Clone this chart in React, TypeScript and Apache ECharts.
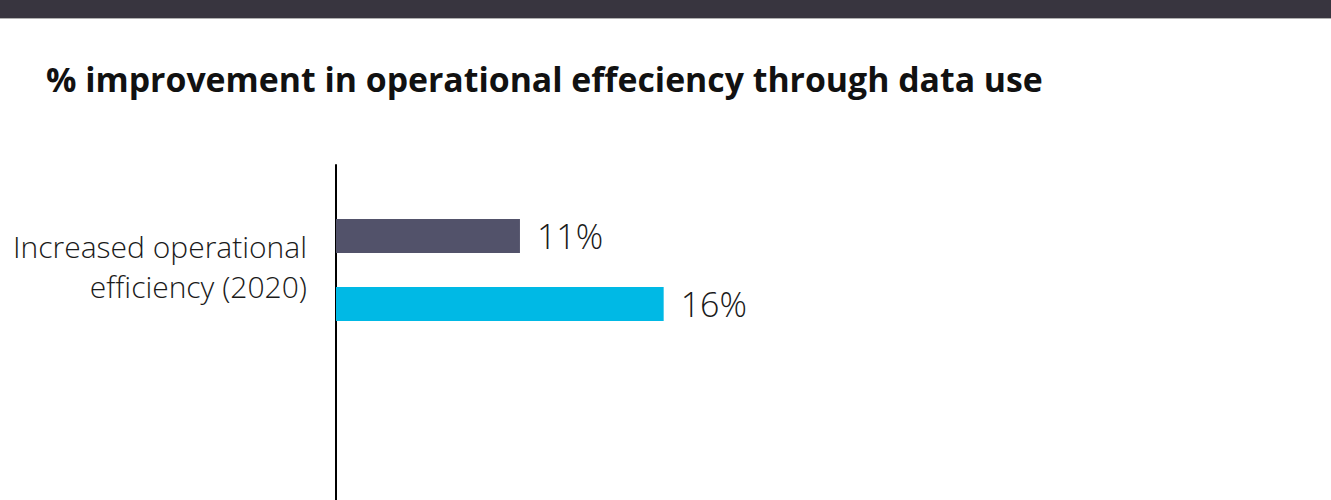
import React, { useEffect, useRef } from "react";
import * as echarts from "echarts";

const categories = ["Increased operational\nefficiency (2020)"];
const seriesA = [11];
const seriesB = [16];
const seriesNames = ["Series A", "Series B"];
const colors = ["#52526a", "#00b9e5"];
const titleText = "% improvement in operational effeciency through data use";

export default function App() {
  const ref = useRef<HTMLDivElement>(null);
  useEffect(() => {
    if (!ref.current) return;
    const chart = echarts.init(ref.current, undefined, { renderer: "svg" });
    const label = {
      show: true,
      position: "right" as const,
      distance: 17,
      formatter: (p: any) => `${p.value}%`,
      fontFamily: "Open Sans",
      fontWeight: 300,
      fontSize: 34,
      color: "#1a1a1a",
    };
    const catText = {
      fontFamily: "Open Sans",
      fontWeight: 300,
      fontSize: 30,
      lineHeight: 40,
      color: "#1a1a1a",
      align: "right",
    };
    chart.setOption({
      animation: false,
      backgroundColor: "#ffffff",
      title: {
        text: titleText,
        left: 41,
        top: 57,
        textStyle: {
          fontFamily: "Open Sans",
          fontWeight: "bold",
          fontSize: 33.8,
          color: "#111",
        },
      },
      graphic: [
        {
          type: "rect",
          shape: { x: 0, y: 0, width: 1331, height: 18 },
          style: { fill: "#38353f" },
        },
        {
          type: "line",
          shape: { x1: 0, y1: 18.5, x2: 1331, y2: 18.5 },
          style: { stroke: "#b0b0b0", lineWidth: 1 },
        },
        {
          type: "line",
          shape: { x1: 336, y1: 374, x2: 336, y2: 500 },
          style: { stroke: "#000", lineWidth: 2 },
        },
      ],
      grid: { left: 336, right: 35, top: 165, height: 210, containLabel: false },
      xAxis: {
        type: "value",
        min: 4.6,
        max: 38,
        show: false,
        splitLine: { show: false },
      },
      yAxis: {
        type: "category",
        data: categories,
        inverse: true,
        axisLine: { show: true, lineStyle: { color: "#000", width: 2 } },
        axisTick: { show: false },
        axisLabel: {
          margin: 29,
          align: "right",
          formatter: (v: string) =>
            v
              .split("\n")
              .map((s) => `{a|${s}}`)
              .join("\n") + "\n{b|}",
          rich: {
            a: catText,
            b: { lineHeight: 8, fontSize: 8 },
          },
        },
      },
      series: [
        {
          name: seriesNames[0],
          type: "bar",
          data: seriesA,
          barWidth: 34,
          barGap: "100%",
          itemStyle: { color: colors[0] },
          label,
        },
        {
          name: seriesNames[1],
          type: "bar",
          data: seriesB,
          barWidth: 34,
          barGap: "100%",
          itemStyle: { color: colors[1] },
          label,
        },
      ],
    });
    return () => chart.dispose();
  }, []);
  return (
    <div
      ref={ref}
      style={{ position: "absolute", left: 0, top: 0, width: 1331, height: 500 }}
    />
  );
}
